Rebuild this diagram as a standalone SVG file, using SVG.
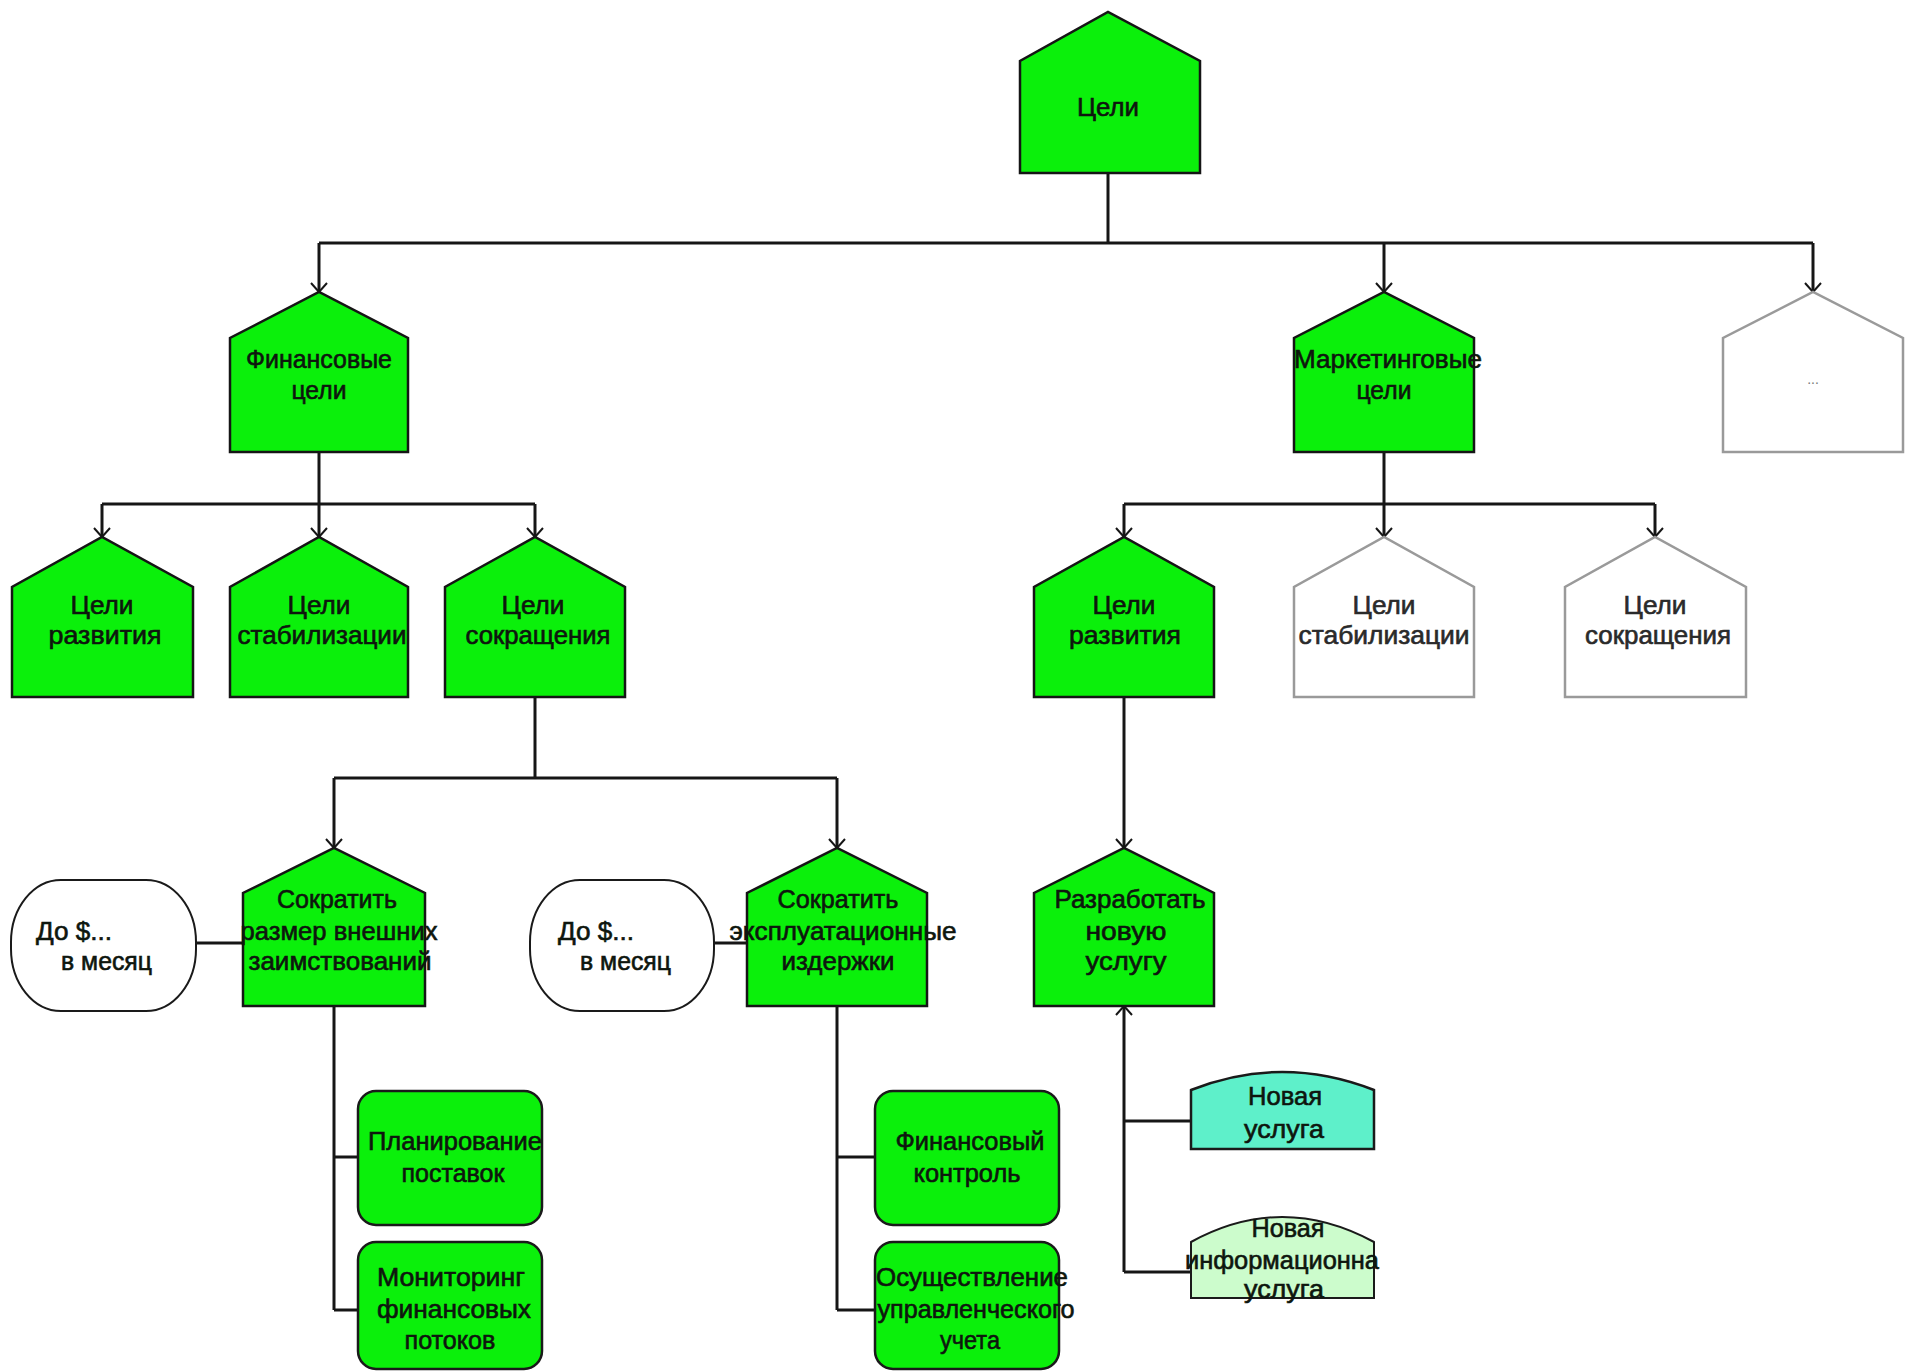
<svg xmlns="http://www.w3.org/2000/svg" width="1905" height="1372" viewBox="0 0 1905 1372">
  <defs>
    <style>
      .goal { fill: #0BF00B; stroke: #151515; stroke-width: 2.5; stroke-linejoin: miter; }
      .blank { fill: #FFFFFF; stroke: #9A9A9A; stroke-width: 2.5; }
      .oval { fill: #FFFFFF; stroke: #1A1A1A; stroke-width: 2; }
      .task { fill: #0BF00B; stroke: #1A1A1A; stroke-width: 2.5; }
      .svc { fill: #5EF0CA; stroke: #1A1A1A; stroke-width: 2.5; }
      .svc2 { fill: #CCFCCC; stroke: #1A1A1A; stroke-width: 2; }
      .wire { fill: none; stroke: #161616; stroke-width: 3; }
      text { font-family: "Liberation Sans", Arial, sans-serif; font-size: 25px; fill: #0E160E; stroke: #0E160E; stroke-width: 0.6; text-anchor: middle; }
      .grey { fill: #2A2A2A; stroke: #2A2A2A; }
      .left { text-anchor: start; }
    </style>
    <marker id="tip" viewBox="-12 -10 14 20" refX="0" refY="0" markerWidth="14" markerHeight="20" markerUnits="userSpaceOnUse" orient="auto">
      <path d="M-9,-8 L0,0 L-9,8" fill="none" stroke="#161616" stroke-width="2"/>
    </marker>
  </defs>

  <rect width="1905" height="1372" fill="#FFFFFF"/>

  <!-- connectors -->
  <g id="connectors" class="wire">
    <path d="M1108,173 V243 M319,243 H1813"/>
    <path d="M319,243 V292" marker-end="url(#tip)"/>
    <path d="M1384,243 V292" marker-end="url(#tip)"/>
    <path d="M1813,243 V292" marker-end="url(#tip)"/>

    <path d="M319,452 V504 M102,504 H535"/>
    <path d="M102,504 V537" marker-end="url(#tip)"/>
    <path d="M319,504 V537" marker-end="url(#tip)"/>
    <path d="M535,504 V537" marker-end="url(#tip)"/>

    <path d="M1384,452 V504 M1124,504 H1655"/>
    <path d="M1124,504 V537" marker-end="url(#tip)"/>
    <path d="M1384,504 V537" marker-end="url(#tip)"/>
    <path d="M1655,504 V537" marker-end="url(#tip)"/>

    <path d="M535,697 V778 M334,778 H837"/>
    <path d="M334,778 V848" marker-end="url(#tip)"/>
    <path d="M837,778 V848" marker-end="url(#tip)"/>
    <path d="M1124,697 V848" marker-end="url(#tip)"/>

    <path d="M196,943 H243 M714,943 H747"/>

    <path d="M334,1006 V1310 M334,1157 H358 M334,1310 H358"/>
    <path d="M837,1006 V1310 M837,1157 H875 M837,1310 H875"/>

    <path d="M1124,1272 V1006" marker-end="url(#tip)"/>
    <path d="M1124,1121 H1191 M1124,1272 H1191"/>
  </g>

  <!-- top level -->
  <g id="goals">
    <path class="goal" d="M1020,173 V61 L1108,12 L1200,61 V173 Z"/>
    <text x="1108" y="116" textLength="62" lengthAdjust="spacingAndGlyphs">Цели</text>
  </g>

  <g id="financial-goals">
    <path class="goal" d="M230,452 V338 L319,292 L408,338 V452 Z"/>
    <text x="319" y="368" textLength="146" lengthAdjust="spacingAndGlyphs">Финансовые</text>
    <text x="319" y="399" textLength="55" lengthAdjust="spacingAndGlyphs">цели</text>
  </g>

  <g id="marketing-goals">
    <path class="goal" d="M1294,452 V338 L1384,292 L1474,338 V452 Z"/>
    <text x="1388" y="368" textLength="188" lengthAdjust="spacingAndGlyphs">Маркетинговые</text>
    <text x="1384" y="399" textLength="55" lengthAdjust="spacingAndGlyphs">цели</text>
  </g>

  <g id="other-goals">
    <path class="blank" d="M1723,452 V338 L1813,292 L1903,338 V452 Z"/>
    <text x="1813" y="384" style="font-size:14px; fill:#777; stroke:none">...</text>
  </g>

  <!-- financial sub-goals -->
  <g id="fin-development">
    <path class="goal" d="M12,697 V587 L102,537 L193,587 V697 Z"/>
    <text x="102" y="614" textLength="63" lengthAdjust="spacingAndGlyphs">Цели</text>
    <text x="105" y="644" textLength="113" lengthAdjust="spacingAndGlyphs">развития</text>
  </g>

  <g id="fin-stabilization">
    <path class="goal" d="M230,697 V587 L319,537 L408,587 V697 Z"/>
    <text x="319" y="614" textLength="63" lengthAdjust="spacingAndGlyphs">Цели</text>
    <text x="322" y="644" textLength="169" lengthAdjust="spacingAndGlyphs">стабилизации</text>
  </g>

  <g id="fin-reduction">
    <path class="goal" d="M445,697 V587 L535,537 L625,587 V697 Z"/>
    <text x="533" y="614" textLength="63" lengthAdjust="spacingAndGlyphs">Цели</text>
    <text x="538" y="644" textLength="145" lengthAdjust="spacingAndGlyphs">сокращения</text>
  </g>

  <!-- marketing sub-goals -->
  <g id="mkt-development">
    <path class="goal" d="M1034,697 V587 L1124,537 L1214,587 V697 Z"/>
    <text x="1124" y="614" textLength="63" lengthAdjust="spacingAndGlyphs">Цели</text>
    <text x="1125" y="644" textLength="112" lengthAdjust="spacingAndGlyphs">развития</text>
  </g>

  <g id="mkt-stabilization">
    <path class="blank" d="M1294,697 V587 L1384,537 L1474,587 V697 Z"/>
    <text class="grey" x="1384" y="614" textLength="63" lengthAdjust="spacingAndGlyphs">Цели</text>
    <text class="grey" x="1384" y="644" textLength="171" lengthAdjust="spacingAndGlyphs">стабилизации</text>
  </g>

  <g id="mkt-reduction">
    <path class="blank" d="M1565,697 V587 L1655,537 L1746,587 V697 Z"/>
    <text class="grey" x="1655" y="614" textLength="63" lengthAdjust="spacingAndGlyphs">Цели</text>
    <text class="grey" x="1658" y="644" textLength="146" lengthAdjust="spacingAndGlyphs">сокращения</text>
  </g>

  <!-- concrete goals -->
  <g id="cut-borrowing">
    <path class="goal" d="M243,1006 V893 L334,848 L425,893 V1006 Z"/>
    <text x="337" y="908" textLength="120" lengthAdjust="spacingAndGlyphs">Сократить</text>
    <text x="339" y="940" textLength="197" lengthAdjust="spacingAndGlyphs">размер  внешних</text>
    <text x="340" y="970" textLength="183" lengthAdjust="spacingAndGlyphs">заимствований</text>
  </g>

  <g id="borrowing-limit">
    <rect class="oval" x="11" y="880" width="185" height="131" rx="50" ry="62"/>
    <text class="left" x="36" y="940" textLength="76" lengthAdjust="spacingAndGlyphs">До $...</text>
    <text class="left" x="61" y="970" textLength="91" lengthAdjust="spacingAndGlyphs">в месяц</text>
  </g>

  <g id="cut-opex">
    <path class="goal" d="M747,1006 V893 L837,848 L927,893 V1006 Z"/>
    <text x="838" y="908" textLength="121" lengthAdjust="spacingAndGlyphs">Сократить</text>
    <text x="843" y="940" textLength="227" lengthAdjust="spacingAndGlyphs">эксплуатационные</text>
    <text x="838" y="970" textLength="113" lengthAdjust="spacingAndGlyphs">издержки</text>
  </g>

  <g id="opex-limit">
    <rect class="oval" x="530" y="880" width="184" height="131" rx="50" ry="62"/>
    <text class="left" x="558" y="940" textLength="76" lengthAdjust="spacingAndGlyphs">До $...</text>
    <text class="left" x="580" y="970" textLength="91" lengthAdjust="spacingAndGlyphs">в месяц</text>
  </g>

  <g id="develop-service">
    <path class="goal" d="M1034,1006 V893 L1124,848 L1214,893 V1006 Z"/>
    <text x="1130" y="908" textLength="151" lengthAdjust="spacingAndGlyphs">Разработать</text>
    <text x="1126" y="940" textLength="81" lengthAdjust="spacingAndGlyphs">новую</text>
    <text x="1126" y="970" textLength="81" lengthAdjust="spacingAndGlyphs">услугу</text>
  </g>

  <!-- actions -->
  <g id="supply-planning">
    <rect class="task" x="358" y="1091" width="184" height="134" rx="18"/>
    <text x="455" y="1150" textLength="174" lengthAdjust="spacingAndGlyphs">Планирование</text>
    <text x="453" y="1182" textLength="103" lengthAdjust="spacingAndGlyphs">поставок</text>
  </g>

  <g id="cashflow-monitoring">
    <rect class="task" x="358" y="1242" width="184" height="127" rx="18"/>
    <text x="451" y="1286" textLength="148" lengthAdjust="spacingAndGlyphs">Мониторинг</text>
    <text x="454" y="1318" textLength="154" lengthAdjust="spacingAndGlyphs">финансовых</text>
    <text x="450" y="1349" textLength="91" lengthAdjust="spacingAndGlyphs">потоков</text>
  </g>

  <g id="financial-control">
    <rect class="task" x="875" y="1091" width="184" height="134" rx="18"/>
    <text x="970" y="1150" textLength="149" lengthAdjust="spacingAndGlyphs">Финансовый</text>
    <text x="967" y="1182" textLength="107" lengthAdjust="spacingAndGlyphs">контроль</text>
  </g>

  <g id="management-accounting">
    <rect class="task" x="875" y="1242" width="184" height="127" rx="18"/>
    <text x="972" y="1286" textLength="192" lengthAdjust="spacingAndGlyphs">Осуществление</text>
    <text x="976" y="1318" textLength="197" lengthAdjust="spacingAndGlyphs">управленческого</text>
    <text x="970" y="1349" textLength="60" lengthAdjust="spacingAndGlyphs">учета</text>
  </g>

  <!-- services -->
  <g id="new-service">
    <path class="svc" d="M1191,1149 V1090 Q1282,1054 1374,1090 V1149 Z"/>
    <text x="1285" y="1105" textLength="74" lengthAdjust="spacingAndGlyphs">Новая</text>
    <text x="1284" y="1138" textLength="80" lengthAdjust="spacingAndGlyphs">услуга</text>
  </g>

  <g id="new-info-service">
    <path class="svc2" d="M1191,1298 V1242 Q1282,1192 1374,1242 V1298 Z"/>
    <text x="1288" y="1237" textLength="73" lengthAdjust="spacingAndGlyphs">Новая</text>
    <text x="1282" y="1269" textLength="194" lengthAdjust="spacingAndGlyphs">информационна</text>
    <text x="1284" y="1298" textLength="80" lengthAdjust="spacingAndGlyphs">услуга</text>
  </g>
</svg>
